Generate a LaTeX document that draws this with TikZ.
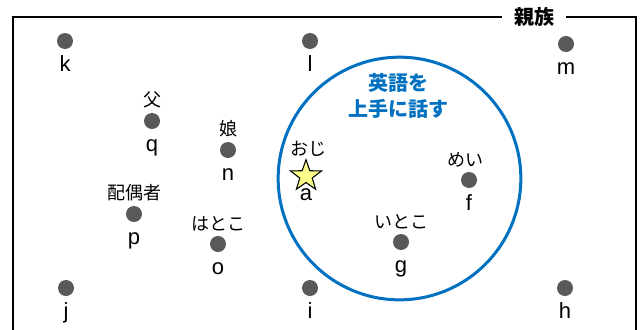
\documentclass[tikz,border=0pt]{standalone}
\usepackage{fontspec}
\setmainfont{Liberation Sans}
\newfontfamily\cjk{Noto Sans CJK JP}
\usepackage{tikz}
\usetikzlibrary{positioning}
\usetikzlibrary{shapes.geometric}
\definecolor{dunkelgrau}{RGB}{89,89,89}
\definecolor{kreisblau}{RGB}{0,112,192}
\definecolor{sterngelb}{RGB}{255,255,140}
\tikzset{
  Punkt/.style={circle, fill=dunkelgrau, minimum size=12pt, inner sep=0pt}, % Personen
  Stern/.style={star, star points=5, star point ratio=2.5, draw, thick, fill=sterngelb, minimum size=24.5pt, inner sep=0pt},
  Name/.style={font=\fontsize{16.5}{16.5}\selectfont, inner sep=0pt, text height=11.8pt, text depth=3.5pt}, % Buchstaben
  Rolle/.style={font=\cjk\fontsize{13.5}{13.5}\selectfont, inner sep=0pt} % Verwandtschaft
}

\begin{document}
\begin{tikzpicture}[x=0.75pt, y=-0.75pt]
\useasboundingbox (0,0) rectangle (642,329);

%Rahmen
\node[font=\cjk\bfseries\fontsize{15}{15}\selectfont, fill=white, inner xsep=9pt] (titel) at (534,17) {親族};
\draw[line width=1.5pt] (titel.west |- 0,17) -- (13,17) -- (13,330);
\draw[line width=1.5pt] (titel.east |- 0,17) -- (636,17) -- (636,330);

%Kreis
\node[circle, draw=kreisblau, line width=2.25pt, minimum size=182pt] (kreis) at (399.5,178.5) {};
\node[font=\cjk\bfseries\fontsize{15}{20}\selectfont, text=kreisblau, align=center] (faehigkeit) at (398,96) {英語を\\上手に話す};

%Personen
\foreach \n/\x/\y in {k/65/41, l/310/41, m/566/44, q/152/121, n/228/150, p/134/214,
  o/218/244, f/469/180, g/401/242, j/66/288, i/310/288, h/565/288}{%
\node[Punkt] (\n) at (\x,\y) {};
\node[Name, below=4.5pt of \n] (\n-name) {\n};
};
\node[Stern] (a) at (306,176) {};
\node[Name, below=1pt of a] (a-name) {a};

%Verwandtschaft
\node[Rolle, above=3.5pt of q] (q-rolle) {父};
\node[Rolle, above=3.5pt of n] (n-rolle) {娘};
\node[Rolle, above=3.5pt of p] (p-rolle) {配偶者};
\node[Rolle, above=3.5pt of o] (o-rolle) {はとこ};
\node[Rolle, above=1pt of a, xshift=1.5pt] (a-rolle) {おじ};
\node[Rolle, above=3.5pt of f, xshift=-3pt] (f-rolle) {めい};
\node[Rolle, above=3.5pt of g] (g-rolle) {いとこ};

\end{tikzpicture}
\end{document}
